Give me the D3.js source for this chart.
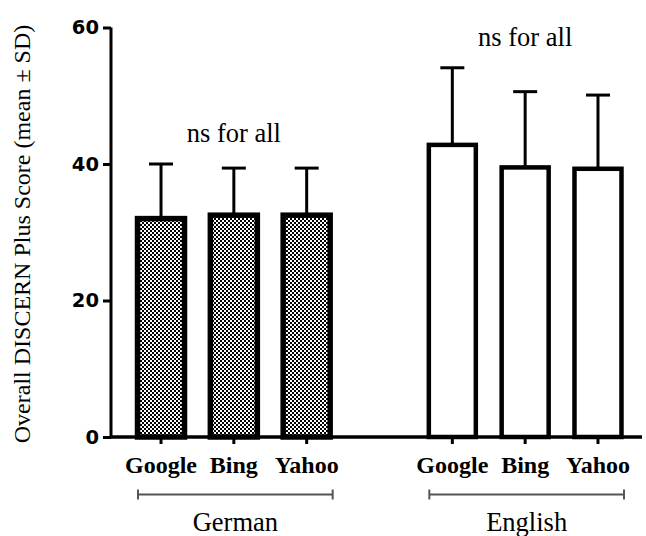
<!DOCTYPE html>
<html><head><meta charset="utf-8">
<script src="https://cdn.jsdelivr.net/npm/d3@7"></script>
<style>body{margin:0;background:#fff}</style>
</head><body>
<svg id="c" width="646" height="536"></svg>
<script>
const categories = ["Google","Bing","Yahoo"];
const groups = ["German","English"];
const germanMeans = [32.0, 32.5, 32.5];
const germanSD = [8.0, 6.9, 6.9];
const englishMeans = [42.8, 39.5, 39.3];
const englishSD = [11.3, 11.1, 10.8];
const yTicks = [0, 20, 40, 60];
const annotation = "ns for all";
const yTitle = "Overall DISCERN Plus Score (mean \u00B1 SD)";

const slots = ["German|Google","German|Bing","German|Yahoo","gap","English|Google","English|Bing","English|Yahoo"];
const bars = [];
categories.forEach((c,i)=>bars.push({group:"German",cat:c,mean:germanMeans[i],sd:germanSD[i]}));
categories.forEach((c,i)=>bars.push({group:"English",cat:c,mean:englishMeans[i],sd:englishSD[i]}));

const svg = d3.select("#c");
const x = d3.scaleBand().domain(slots).range([124.6, 634.4]).padding(0);
const y = d3.scaleLinear().domain([0,60]).range([437, 27.5]);
const cx = d => x(d.group+"|"+d.cat) + x.bandwidth()/2;

const defs = svg.append("defs");
const pat = defs.append("pattern").attr("id","check").attr("patternUnits","userSpaceOnUse")
  .attr("width",4).attr("height",4);
pat.append("rect").attr("width",4).attr("height",4).attr("fill","#fff");
pat.append("rect").attr("x",0).attr("y",0).attr("width",2).attr("height",2).attr("fill","#000");
pat.append("rect").attr("x",2).attr("y",2).attr("width",2).attr("height",2).attr("fill","#000");

// error bars
const eb = svg.append("g");
bars.forEach(d=>{
  const c = cx(d);
  eb.append("line").attr("x1",c).attr("x2",c).attr("y1",y(d.mean)).attr("y2",y(d.mean+d.sd))
    .attr("stroke","#000").attr("stroke-width",3);
  eb.append("line").attr("x1",c-12).attr("x2",c+12).attr("y1",y(d.mean+d.sd)).attr("y2",y(d.mean+d.sd))
    .attr("stroke","#000").attr("stroke-width",3);
});

// bars
svg.append("g").selectAll("rect").data(bars).join("rect")
  .attr("x",d=>cx(d)-23.5).attr("width",47)
  .attr("y",d=>y(d.mean)).attr("height",d=>y(0)-y(d.mean))
  .attr("fill",d=>d.group==="German"?"url(#check)":"#fff")
  .attr("stroke","#000").attr("stroke-width",d=>d.group==="German"?5.5:4.5);

// y axis
const yAxis = d3.axisLeft(y).tickValues(yTicks).tickSize(8).tickPadding(4).tickFormat(d3.format("d"));
const ga = svg.append("g").attr("transform","translate(111,0)").call(yAxis);
ga.select(".domain").attr("stroke","#000").attr("stroke-width",3).attr("d","M0,"+y(60)+"V"+y(0));
ga.selectAll(".tick line").attr("stroke","#000").attr("stroke-width",3);
ga.selectAll(".tick text").attr("font-family","DejaVu Sans").attr("font-weight","bold")
  .attr("font-size",19.5).attr("fill","#000");

// x axis
const xa = svg.append("g").attr("transform","translate(0,437)");
xa.append("line").attr("x1",110).attr("x2",642).attr("y1",0).attr("y2",0)
  .attr("stroke","#000").attr("stroke-width",3.5);
xa.selectAll("line.t").data(bars).join("line").attr("class","t")
  .attr("x1",d=>cx(d)).attr("x2",d=>cx(d)).attr("y1",0).attr("y2",7)
  .attr("stroke","#000").attr("stroke-width",3);
xa.selectAll("text").data(bars).join("text")
  .attr("x",d=>cx(d)).attr("y",36).attr("text-anchor","middle")
  .attr("font-family","Liberation Serif").attr("font-weight","bold").attr("font-size",24)
  .text(d=>d.cat);

// group brackets
groups.forEach(g=>{
  const first = x(g+"|"+categories[0]) + x.bandwidth()/2;
  const last = x(g+"|"+categories[categories.length-1]) + x.bandwidth()/2;
  const x0 = first - 23, x1 = last + 26;
  const gy = 494.5;
  const gb = svg.append("g").attr("stroke","#555").attr("stroke-width",2);
  gb.append("line").attr("x1",x0).attr("x2",x1).attr("y1",gy).attr("y2",gy);
  gb.append("line").attr("x1",x0).attr("x2",x0).attr("y1",gy-5).attr("y2",gy+5);
  gb.append("line").attr("x1",x1).attr("x2",x1).attr("y1",gy-5).attr("y2",gy+5);
  svg.append("text").attr("x",(x0+x1)/2).attr("y",531).attr("text-anchor","middle")
    .attr("font-family","Liberation Serif").attr("font-size",26.5).text(g);
  // annotation
  const top = d3.max(bars.filter(b=>b.group===g), b=>b.mean+b.sd);
  svg.append("text").attr("x",(first+last)/2).attr("y",y(top)-22).attr("text-anchor","middle")
    .attr("font-family","Liberation Serif").attr("font-size",26.5).text(annotation);
});

// y title
svg.append("text").attr("transform","translate(30,234) rotate(-90)").attr("text-anchor","middle")
  .attr("font-family","Liberation Serif").attr("font-size",24).text(yTitle);
</script>
</body></html>
